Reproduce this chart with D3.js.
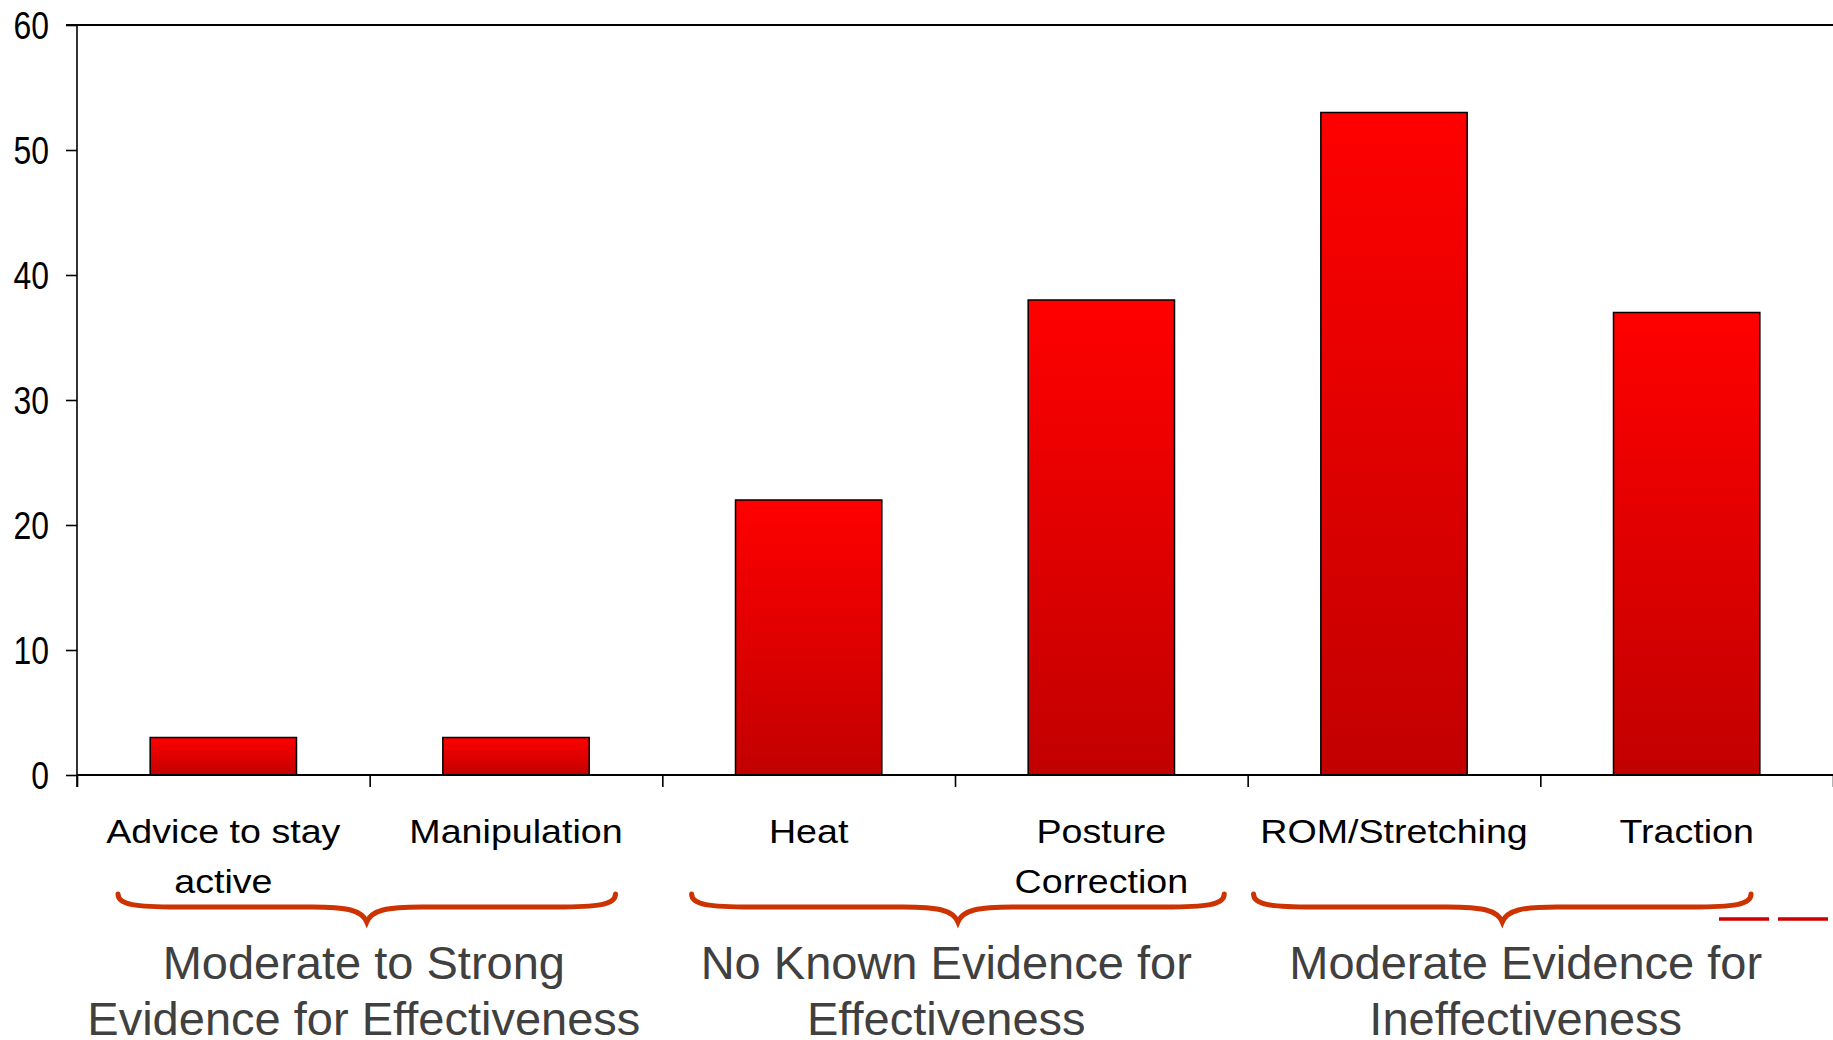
<!DOCTYPE html>
<html>
<head>
<meta charset="utf-8">
<script src="https://cdn.jsdelivr.net/npm/d3@7"></script>
<style>
  body { margin: 0; background: #fff; }
  svg { display: block; font-family: "Liberation Sans", Arial, sans-serif; }
</style>
</head>
<body>
<svg id="chart" width="1833" height="1040"></svg>
<script>
const categories = [
    ["Advice to stay", "active"],
    ["Manipulation"],
    ["Heat"],
    ["Posture", "Correction"],
    ["ROM/Stretching"],
    ["Traction"]
];
const values = [3, 3, 22, 38, 53, 37];
const yTicks = [0, 10, 20, 30, 40, 50, 60];

// evidence groups, spans given in category units
const groupLabels = [
    ["Moderate to Strong", "Evidence for Effectiveness"],
    ["No Known Evidence for", "Effectiveness"],
    ["Moderate Evidence for", "Ineffectiveness"]
];
const groupBraces = [[0.14, 1.84], [2.10, 3.92], [4.02, 5.72]];
const groupCenters = [0.98, 2.97, 4.95];

const svg = d3.select("#chart");
const width = +svg.attr("width");
const margin = {top: 25, left: 77};
const y0 = 775;

const x = d3.scaleBand()
    .domain(d3.range(categories.length))
    .range([margin.left, width])
    .paddingInner(0.5)
    .paddingOuter(0.25);

const slot = d3.scaleLinear()
    .domain([0, categories.length])
    .range([margin.left, width]);

const y = d3.scaleLinear()
    .domain([0, 60])
    .range([y0, margin.top]);

const grad = svg.append("defs").append("linearGradient")
    .attr("id", "barGrad")
    .attr("x1", 0).attr("y1", 0).attr("x2", 0).attr("y2", 1);
grad.append("stop").attr("offset", "0%").attr("stop-color", "#ff0000");
grad.append("stop").attr("offset", "100%").attr("stop-color", "#c20000");

// top border at 60
svg.append("line")
    .attr("x1", margin.left - 11).attr("x2", width)
    .attr("y1", y(60)).attr("y2", y(60))
    .attr("stroke", "#000").attr("stroke-width", 2);

// bars
svg.selectAll("rect.bar")
    .data(values)
    .enter()
    .append("rect")
    .attr("class", "bar")
    .attr("x", (d, i) => x(i))
    .attr("y", d => y(d))
    .attr("width", x.bandwidth())
    .attr("height", d => y(0) - y(d))
    .attr("fill", "url(#barGrad)")
    .attr("stroke", "#000")
    .attr("stroke-width", 1.5);

// y axis
const yAxis = svg.append("g")
    .attr("transform", "translate(" + margin.left + ",0)")
    .call(d3.axisLeft(y).tickValues(yTicks).tickSize(11).tickPadding(17));
yAxis.select(".domain")
    .attr("d", "M0," + y(60) + "V" + (y0 + 12))
    .attr("stroke-width", 1.6);
yAxis.selectAll(".tick line").attr("stroke-width", 1.6);
yAxis.selectAll(".tick text")
    .attr("font-size", 38)
    .attr("font-family", "Liberation Sans, Arial, sans-serif")
    .attr("fill", "#000")
    .attr("dy", "0.36em")
    .attr("transform", "scale(0.84,1)")
    .attr("x", -28 / 0.84);

// x axis line with ticks between categories
const xAxis = svg.append("g")
    .attr("transform", "translate(0," + y0 + ")")
    .call(d3.axisBottom(slot).ticks(categories.length).tickSize(12).tickFormat(""));
xAxis.select(".domain")
    .attr("d", "M" + margin.left + ",0H" + width)
    .attr("stroke-width", 2);
xAxis.selectAll(".tick line").attr("stroke-width", 1.6);

// category labels
const catG = svg.selectAll("g.cat")
    .data(categories)
    .enter()
    .append("g")
    .attr("class", "cat")
    .attr("transform", (d, i) => "translate(" + (x(i) + x.bandwidth() / 2) + ",843) scale(1.14,1)");
catG.selectAll("text")
    .data(d => d)
    .enter()
    .append("text")
    .attr("text-anchor", "middle")
    .attr("y", (d, j) => j * 50)
    .attr("font-size", 33)
    .attr("fill", "#000")
    .text(d => d);

// braces
function bracePath(a, b) {
    const x0 = slot(a), x1 = slot(b), m = (x0 + x1) / 2;
    const top = 894, h = 907, tip = 922;
    return "M" + x0 + "," + top +
        "C" + x0 + "," + (h - 2) + " " + (x0 + 18) + "," + h + " " + (x0 + 60) + "," + h +
        "L" + (m - 55) + "," + h +
        "C" + (m - 20) + "," + h + " " + (m - 5) + "," + (h + 3) + " " + m + "," + tip +
        "C" + (m + 5) + "," + (h + 3) + " " + (m + 20) + "," + h + " " + (m + 55) + "," + h +
        "L" + (x1 - 60) + "," + h +
        "C" + (x1 - 18) + "," + h + " " + x1 + "," + (h - 2) + " " + x1 + "," + top;
}
svg.selectAll("path.brace")
    .data(groupBraces)
    .enter()
    .append("path")
    .attr("class", "brace")
    .attr("d", d => bracePath(d[0], d[1]))
    .attr("fill", "none")
    .attr("stroke", "#cc3300")
    .attr("stroke-width", 5)
    .attr("stroke-linecap", "round");

// group labels
const grpG = svg.selectAll("g.grp")
    .data(groupLabels)
    .enter()
    .append("g")
    .attr("class", "grp")
    .attr("transform", (d, i) => "translate(" + slot(groupCenters[i]) + ",979)");
grpG.selectAll("text")
    .data(d => d)
    .enter()
    .append("text")
    .attr("text-anchor", "middle")
    .attr("y", (d, j) => j * 56)
    .attr("font-size", 47)
    .attr("fill", "#404040")
    .text(d => d);

// red dashes at the right edge
svg.append("line")
    .attr("x1", 1719).attr("x2", width)
    .attr("y1", 919).attr("y2", 919)
    .attr("stroke", "#cc0000")
    .attr("stroke-width", 3.5)
    .attr("stroke-dasharray", "50,9");
</script>
</body>
</html>
